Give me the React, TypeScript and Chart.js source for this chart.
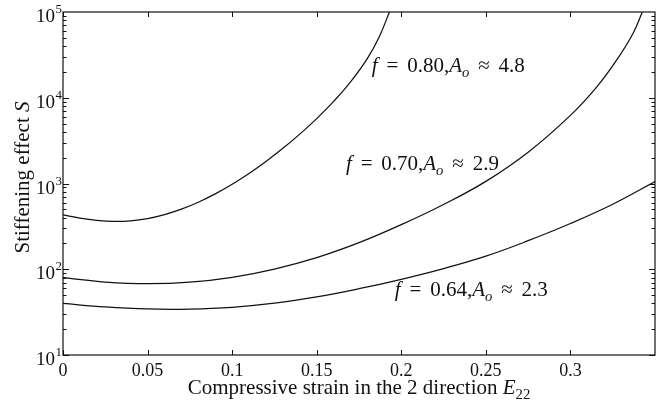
import { useEffect, useRef } from "react";
import { Chart, registerables } from "chart.js";

Chart.register(...registerables);

// ---- data ----
const xTickValues = [0, 0.05, 0.1, 0.15, 0.2, 0.25, 0.3];
const yTickValues = [10, 100, 1000, 10000, 100000];
const yTickBase = "10";
const yTickExponents = ["1", "2", "3", "4", "5"];

const curve80X = [0, 0.01, 0.02, 0.03, 0.04, 0.05, 0.06, 0.07, 0.08, 0.09, 0.1, 0.11, 0.12, 0.13, 0.14, 0.15, 0.16, 0.17, 0.18, 0.187, 0.193];
const curve80Y = [430, 395, 372, 362, 367, 390, 434, 502, 605, 757, 980, 1309, 1807, 2570, 3767, 5715, 9057, 15310, 28840, 51520, 100000];

const curve70X = [0, 0.025, 0.05, 0.075, 0.1, 0.125, 0.15, 0.175, 0.2, 0.225, 0.25, 0.275, 0.3, 0.315, 0.327, 0.337, 0.3425];
const curve70Y = [80, 71, 67.8, 70.6, 80.4, 100.5, 136.5, 204, 331, 569, 1059, 2317, 6237, 12970, 26920, 56230, 100000];

const curve64X = [0, 0.025, 0.05, 0.075, 0.1, 0.125, 0.15, 0.175, 0.2, 0.225, 0.25, 0.275, 0.3, 0.325, 0.35];
const curve64Y = [40, 36.3, 34.4, 34.3, 36, 40.2, 47.6, 59.3, 76.4, 101.9, 142.2, 215.3, 341.2, 572.8, 1054];

const labelF = ["0.80", "0.70", "0.64"];
const labelA = ["4.8", "2.9", "2.3"];
const labelAnchorX = [0.1826, 0.1673, 0.1962];
const labelAnchorY = [19950, 1435, 48.7];

const xTitle = "Compressive strain in the 2 direction ";
const yTitle = "Stiffening effect ";

const FONT = "'Liberation Serif', 'DejaVu Serif', serif";
const INK = "#111";

type Part = { t: string; it?: boolean; sub?: boolean; gap?: number };

function partFont(p: Part, size: number) {
  const s = p.sub ? size * 0.7 : size;
  return `${p.it ? "italic " : ""}${s}px ${FONT}`;
}

function measureParts(ctx: CanvasRenderingContext2D, parts: Part[], size: number) {
  let w = 0;
  for (const p of parts) {
    if (p.gap) {
      w += p.gap * size;
      continue;
    }
    ctx.font = partFont(p, size);
    w += ctx.measureText(p.t).width;
  }
  return w;
}

function drawParts(ctx: CanvasRenderingContext2D, parts: Part[], x: number, y: number, size: number) {
  let cx = x;
  ctx.textBaseline = "alphabetic";
  ctx.textAlign = "left";
  for (const p of parts) {
    if (p.gap) {
      cx += p.gap * size;
      continue;
    }
    ctx.font = partFont(p, size);
    ctx.fillText(p.t, cx, p.sub ? y + size * 0.22 : y);
    cx += ctx.measureText(p.t).width;
  }
}

const framePlugin = {
  id: "frameAndText",
  afterDraw(chart: any) {
    const { ctx, chartArea: a, scales } = chart;
    const xs = scales.x;
    const ys = scales.y;
    ctx.save();
    ctx.strokeStyle = INK;
    ctx.fillStyle = INK;
    ctx.lineWidth = 1.2;
    ctx.strokeRect(a.left, a.top, a.right - a.left, a.bottom - a.top);

    // x ticks (inward, top and bottom)
    ctx.lineWidth = 1;
    ctx.beginPath();
    for (const v of xTickValues) {
      const px = Math.round(xs.getPixelForValue(v)) + 0.5;
      ctx.moveTo(px, a.bottom);
      ctx.lineTo(px, a.bottom - 5);
      ctx.moveTo(px, a.top);
      ctx.lineTo(px, a.top + 5);
    }
    // y ticks (major + minor, inward, left and right)
    for (let e = 1; e < 5; e++) {
      for (let m = 1; m <= 9; m++) {
        const v = m * Math.pow(10, e);
        const py = Math.round(ys.getPixelForValue(v)) + 0.5;
        const len = m === 1 ? 6 : 3.5;
        ctx.moveTo(a.left, py);
        ctx.lineTo(a.left + len, py);
        ctx.moveTo(a.right, py);
        ctx.lineTo(a.right - len, py);
      }
    }
    ctx.stroke();

    // y tick labels 10^n
    ctx.textBaseline = "alphabetic";
    for (let i = 0; i < yTickValues.length; i++) {
      const py = ys.getPixelForValue(yTickValues[i]);
      ctx.font = `13px ${FONT}`;
      const ew = ctx.measureText(yTickExponents[i]).width;
      ctx.textAlign = "right";
      ctx.fillText(yTickExponents[i], 62, py + 1);
      ctx.font = `19px ${FONT}`;
      ctx.fillText(yTickBase, 62 - ew - 0.5, py + 10);
    }

    // annotations
    for (let i = 0; i < labelF.length; i++) {
      const parts: Part[] = [
        { t: "f", it: true },
        { t: "", gap: 0.42 },
        { t: "=" },
        { t: "", gap: 0.42 },
        { t: `${labelF[i]},` },
        { t: "A", it: true },
        { t: "o", it: true, sub: true },
        { t: "", gap: 0.42 },
        { t: "\u2248" },
        { t: "", gap: 0.42 },
        { t: labelA[i] },
      ];
      drawParts(ctx, parts, xs.getPixelForValue(labelAnchorX[i]), ys.getPixelForValue(labelAnchorY[i]), 21);
    }

    // x title
    const xParts: Part[] = [{ t: xTitle }, { t: "E", it: true }, { t: "22", sub: true }];
    const xw = measureParts(ctx, xParts, 21);
    drawParts(ctx, xParts, (a.left + a.right) / 2 - xw / 2, 394, 21);

    // y title
    const yParts: Part[] = [{ t: yTitle }, { t: "S", it: true }];
    const yw = measureParts(ctx, yParts, 21);
    ctx.translate(29, (a.top + a.bottom) / 2 - 6);
    ctx.rotate(-Math.PI / 2);
    drawParts(ctx, yParts, -yw / 2, 0, 21);
    ctx.restore();
  },
};

export default function App() {
  const canvasRef = useRef<HTMLCanvasElement | null>(null);

  useEffect(() => {
    document.body.style.margin = "0";
    const canvas = canvasRef.current;
    if (!canvas) return;
    const mk = (xv: number[], yv: number[]) => xv.map((x, i) => ({ x, y: yv[i] }));
    const lineStyle = {
      borderColor: INK,
      borderWidth: 1.25,
      pointRadius: 0,
      fill: false,
      tension: 0.4,
    };
    const chart = new Chart(canvas, {
      type: "line",
      data: {
        datasets: [
          { label: "f = 0.80", data: mk(curve80X, curve80Y), ...lineStyle },
          { label: "f = 0.70", data: mk(curve70X, curve70Y), ...lineStyle },
          { label: "f = 0.64", data: mk(curve64X, curve64Y), ...lineStyle },
        ],
      },
      options: {
        animation: false,
        responsive: false,
        devicePixelRatio: 1,
        layout: { padding: { top: 12, right: 10, left: 0, bottom: 0 } },
        plugins: { legend: { display: false }, tooltip: { enabled: false } },
        scales: {
          x: {
            type: "linear",
            min: 0,
            max: 0.35,
            grid: { display: false, drawTicks: false },
            border: { display: false },
            afterBuildTicks: (s: any) => {
              s.ticks = xTickValues.map((v) => ({ value: v }));
            },
            afterFit: (s: any) => {
              s.height = 51;
            },
            ticks: {
              autoSkip: false,
              maxRotation: 0,
              padding: 5,
              color: INK,
              font: { family: FONT, size: 18 },
              callback: (v: any) => String(+Number(v).toFixed(2)),
            },
          },
          y: {
            type: "logarithmic",
            min: 10,
            max: 100000,
            grid: { display: false, drawTicks: false },
            border: { display: false },
            afterBuildTicks: (s: any) => {
              s.ticks = yTickValues.map((v) => ({ value: v }));
            },
            afterFit: (s: any) => {
              s.width = 63;
            },
            ticks: { display: false },
          },
        },
      },
      plugins: [framePlugin],
    });
    return () => chart.destroy();
  }, []);

  return (
    <div style={{ width: 665, height: 406, background: "#fff" }}>
      <canvas ref={canvasRef} width={665} height={406} />
    </div>
  );
}
